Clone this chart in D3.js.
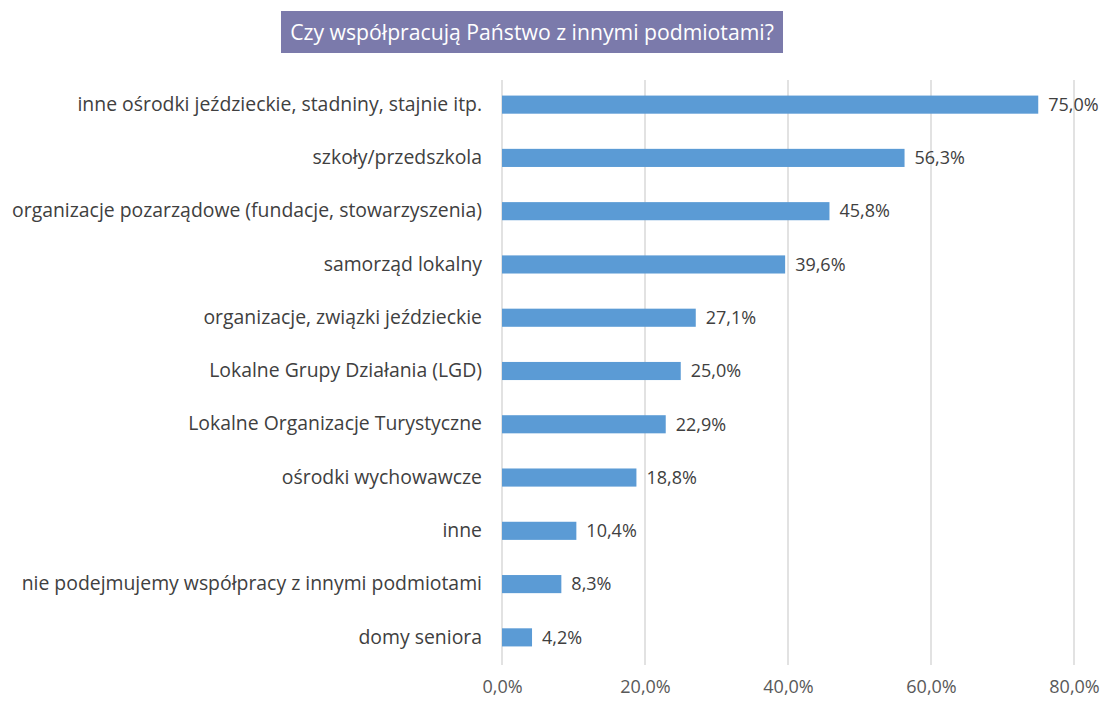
<!DOCTYPE html>
<html>
<head>
<meta charset="utf-8">
<script src="https://cdnjs.cloudflare.com/ajax/libs/d3/7.8.5/d3.min.js"></script>
<style>
  body { margin: 0; background: #fff; }
  svg text { font-family: "Open Sans", "Liberation Sans", sans-serif; }
</style>
</head>
<body>
<svg id="chart" width="1113" height="702"></svg>
<script>
// chart data
var categories = [
  "inne ośrodki jeździeckie, stadniny, stajnie itp.",
  "szkoły/przedszkola",
  "organizacje pozarządowe (fundacje, stowarzyszenia)",
  "samorząd lokalny",
  "organizacje, związki jeździeckie",
  "Lokalne Grupy Działania (LGD)",
  "Lokalne Organizacje Turystyczne",
  "ośrodki wychowawcze",
  "inne",
  "nie podejmujemy współpracy z innymi podmiotami",
  "domy seniora"
];
var values = [75.0, 56.3, 45.8, 39.6, 27.1, 25.0, 22.9, 18.8, 10.4, 8.3, 4.2];
var tickValues = [0, 20, 40, 60, 80];
var title = "Czy współpracują Państwo z innymi podmiotami?";

var svg = d3.select("#chart");
var fmt = function (v) { return d3.format(".1f")(v).replace(".", ",") + "%"; };

var x = d3.scaleLinear().domain([0, 80]).range([502, 1074]);
var y = d3.scaleBand().domain(categories).range([78, 664]).paddingInner(0.66).paddingOuter(0.33);

// title box
var tg = svg.append("g");
tg.append("rect").attr("x", 281).attr("y", 11).attr("width", 502).attr("height", 42)
  .attr("fill", "#7b7aab");
tg.append("text").attr("x", 532).attr("y", 40).attr("text-anchor", "middle")
  .attr("fill", "#fff").attr("font-size", 21.2).text(title);

// gridlines
svg.append("g").selectAll("line").data(tickValues).join("line")
  .attr("x1", d => x(d)).attr("x2", d => x(d))
  .attr("y1", 80).attr("y2", 665)
  .attr("stroke", "#d9d9d9").attr("stroke-width", 1.5);

// x axis
var xAxis = d3.axisBottom(x).tickValues(tickValues).tickFormat(fmt).tickSize(0).tickPadding(0);
var xg = svg.append("g").attr("transform", "translate(0,678)").call(xAxis);
xg.select(".domain").remove();
xg.selectAll("text").attr("font-size", 18).attr("fill", "#595959").attr("dy", "0.85em");

// y labels
var yAxis = d3.axisLeft(y).tickSize(0).tickPadding(20);
var yg = svg.append("g").attr("transform", "translate(502,0)").call(yAxis);
yg.select(".domain").remove();
yg.selectAll("text").attr("font-size", 19.4).attr("fill", "#404040");

// bars
svg.append("g").selectAll("rect").data(values).join("rect")
  .attr("x", x(0))
  .attr("y", (d, i) => y(categories[i]))
  .attr("width", d => x(d) - x(0))
  .attr("height", y.bandwidth())
  .attr("fill", "#5b9bd5");

// value labels
svg.append("g").selectAll("text").data(values).join("text")
  .attr("x", d => x(d) + 10)
  .attr("y", (d, i) => y(categories[i]) + y.bandwidth() / 2)
  .attr("dy", "0.35em")
  .attr("font-size", 18).attr("fill", "#404040")
  .text(fmt);
</script>
</body>
</html>
